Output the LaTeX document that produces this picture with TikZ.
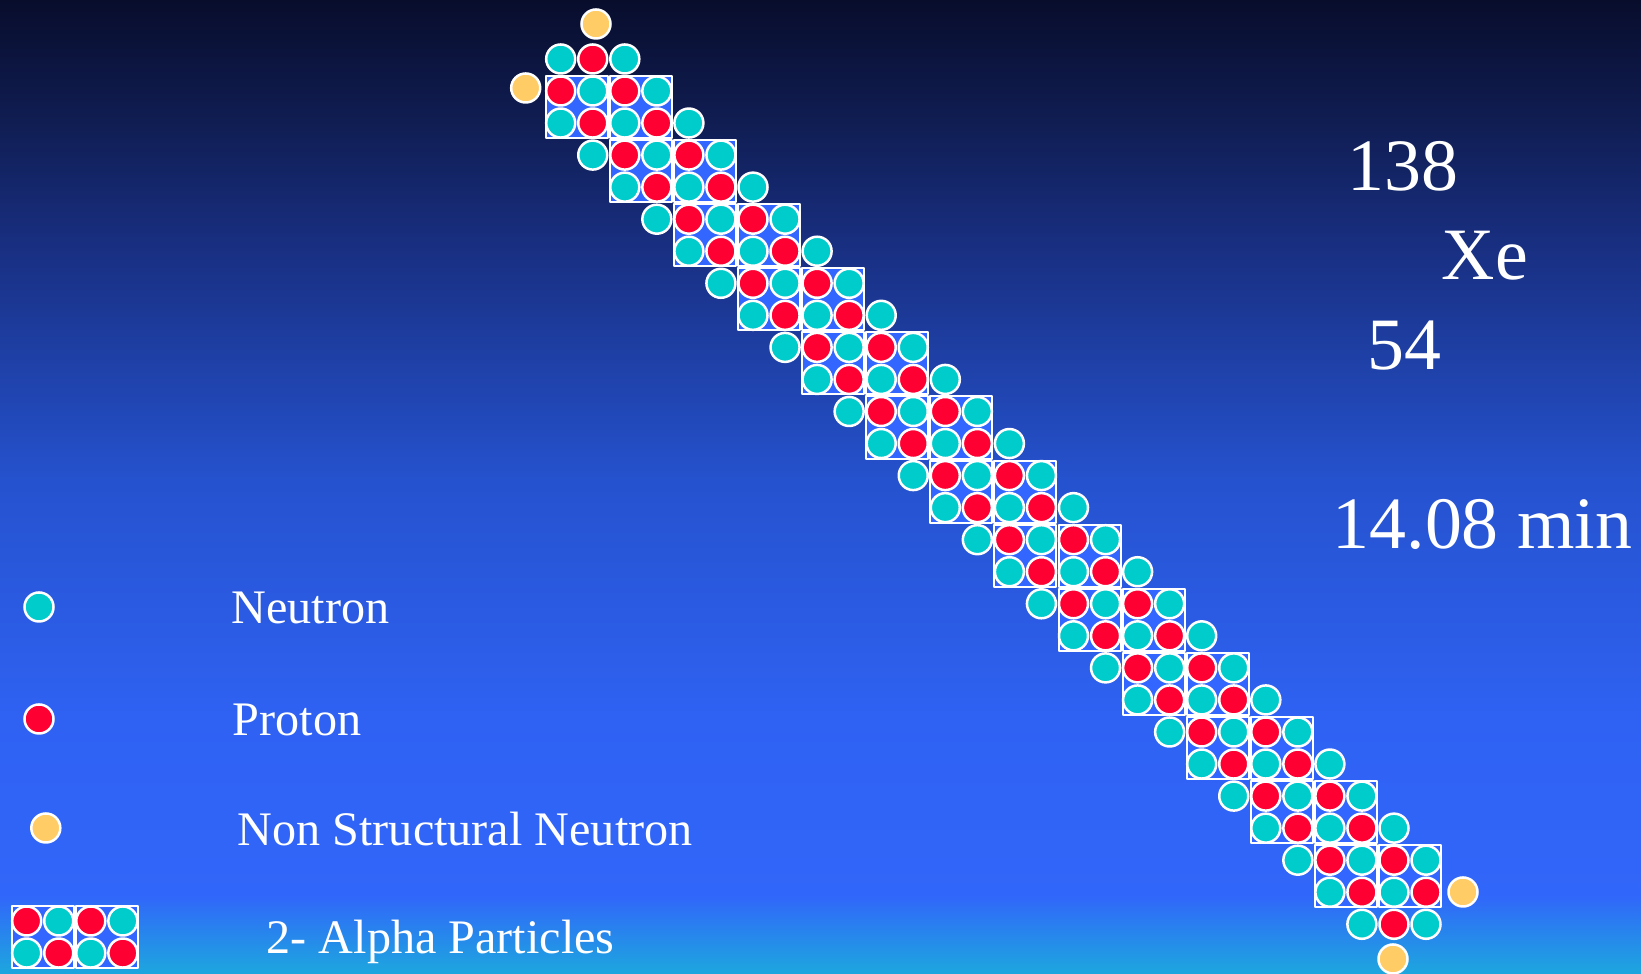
\documentclass[tikz,border=0pt]{standalone}
\usepackage{fontspec}
\setmainfont{Liberation Serif}

\definecolor{neutron}{HTML}{00CCCC}
\definecolor{proton}{HTML}{FF0033}
\definecolor{spare}{HTML}{FFCC66}
\definecolor{cell}{HTML}{3366FF}
\definecolor{sky0}{HTML}{1DA7DE}
\definecolor{sky1}{HTML}{3166FA}
\definecolor{sky2}{HTML}{2F62F3}
\definecolor{sky3}{HTML}{2552CE}
\definecolor{sky4}{HTML}{182E7F}
\definecolor{sky5}{HTML}{101D52}
\definecolor{sky6}{HTML}{080D2C}
\pgfdeclareverticalshading{sky}{100bp}{color(0bp)=(sky0); color(25bp)=(sky0); color(29.06bp)=(sky1); color(38.04bp)=(sky2); color(50.36bp)=(sky3); color(62.68bp)=(sky4); color(68.84bp)=(sky5); color(75bp)=(sky6); color(100bp)=(sky6)}

\newcommand\pitch{32.05}
% two alpha particles side by side, #1 = upper left nucleon, #2 = name prefix
\newcommand\alphapair[2]{%
  \begin{scope}[shift={#1}]
    \foreach \i in {0,2}
      \draw[cellbox] ({\i*\pitch-15},-15) rectangle ({(\i+1)*\pitch+15},{\pitch+15});
    \foreach \i/\j/\kind in {0/0/prot,1/0/neut,2/0/prot,3/0/neut,0/1/neut,1/1/prot,2/1/neut,3/1/prot}
      \node[\kind] (#2-\i\j) at ({\i*\pitch},{\j*\pitch}) {};
  \end{scope}}

\begin{document}
\begin{tikzpicture}[x=.01cm, y=-.01cm, line join=round,
  nuc/.style={circle, draw=white, line width=.25mm, minimum size=2.9mm, inner sep=0pt},
  neut/.style={nuc, fill=neutron}, prot/.style={nuc, fill=proton}, lone/.style={nuc, fill=spare},
  cellbox/.style={draw=white, line width=.2mm, fill=cell},
  tag/.style={text=white, inner sep=0pt, anchor=base west}]
\useasboundingbox (0,0) rectangle (1641,974);
\shade[shading=sky] (0,0) rectangle (1641,974);
% the chain of alpha pairs, linked by single neutrons
\foreach \k in {0,...,12}{
  \alphapair{({560.7+2*\pitch*\k},{91+2*\pitch*\k})}{a\k}
  \ifnum\k<12
    \node[neut] (r\k) at ({560.7+(2*\k+4)*\pitch},{91+(2*\k+1)*\pitch}) {};
    \node[neut] (l\k) at ({560.7+(2*\k+1)*\pitch},{91+(2*\k+2)*\pitch}) {};
  \fi
}
% both ends
\foreach \kind/\x/\y/\nm in {neut/560.7/59/t1, prot/592.75/59/t2, neut/624.8/59/t3, lone/596/24/t4, lone/525.7/88/t5,
  neut/1361.9/924.3/b1, prot/1394/924.3/b2, neut/1426/924.3/b3, lone/1393/959/b4, lone/1463/892/b5}
  \node[\kind] (\nm) at (\x,\y) {};
% key
\node[neut] (keyn) at (39,607) {};
\node[prot] (keyp) at (39,719) {};
\node[lone] (keyl) at (45.8,828) {};
\alphapair{(26.7,921)}{keya}
\begin{scope}[font=\fontsize{13.7}{16}\selectfont]
\node[tag] (tn) at (231,624) {Neutron};
\node[tag] (tp) at (232,735.7) {Proton};
\node[tag] (tl) at (237,845.7) {Non Structural Neutron};
\node[tag] (ta) at (266,954) {2- Alpha Particles};
\end{scope}
\begin{scope}[font=\fontsize{21}{25}\selectfont]
\node[tag] (mass) at (1347,190.7) {138};
\node[tag] (sym) at (1441,280) {Xe};
\node[tag] (charge) at (1367,369.3) {54};
\node[tag] (half) at (1332,548.3) {14.08 min};
\end{scope}
\end{tikzpicture}
\end{document}
